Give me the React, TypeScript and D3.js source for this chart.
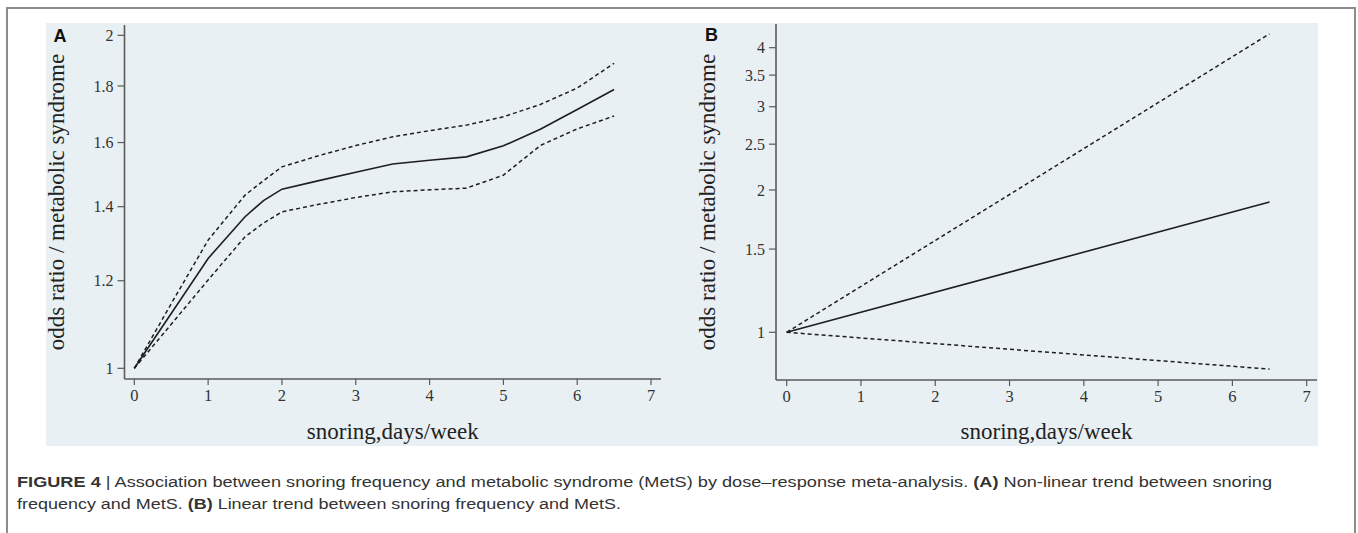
import React from 'react';
import * as d3 from 'd3';

// x axis ticks shared by both panels
const xTicks = [0, 1, 2, 3, 4, 5, 6, 7];

// panel A: non-linear (spline) trend
const daysA = [0, 0.5, 1, 1.5, 1.75, 2, 2.5, 3, 3.5, 4, 4.5, 5, 5.5, 6, 6.5];
const orA = [1.0, 1.121, 1.257, 1.371, 1.418, 1.452, 1.478, 1.504, 1.53, 1.542, 1.553, 1.589, 1.645, 1.714, 1.787];
const upperA = [1.0, 1.144, 1.306, 1.434, 1.478, 1.521, 1.557, 1.59, 1.619, 1.64, 1.659, 1.688, 1.732, 1.792, 1.887];
const lowerA = [1.0, 1.096, 1.202, 1.315, 1.353, 1.385, 1.407, 1.427, 1.444, 1.45, 1.455, 1.495, 1.59, 1.646, 1.691];
const yTicksA = [1, 1.2, 1.4, 1.6, 1.8, 2];

// panel B: linear trend
const daysB = [0, 6.5];
const orB = [1.0, 1.886];
const upperB = [1.0, 4.28];
const lowerB = [1.0, 0.836];
const yTicksB = [1, 1.5, 2, 2.5, 3, 3.5, 4];

const serif = '"Liberation Serif", "Times New Roman", serif';
const sans = '"Liberation Sans", Arial, sans-serif';
const axisColor = '#5a5a5a';
const lineColor = '#1e1e1e';

interface PanelProps {
  label: string;
  box: { x0: number; x1: number; y0: number; y1: number };
  xDomain: [number, number];
  yDomain: [number, number];
  yTicks: number[];
  days: number[];
  est: number[];
  upper: number[];
  lower: number[];
}

function Panel({ label, box, xDomain, yDomain, yTicks, days, est, upper, lower }: PanelProps) {
  const x = d3.scaleLinear().domain(xDomain).range([box.x0, box.x1]);
  const y = d3.scaleLog().domain(yDomain).range([box.y1, box.y0]);

  const line = (vals: number[]) =>
    d3.line<number>()
      .x((_, i) => x(days[i]))
      .y((v) => y(v))(vals) || '';

  const midX = (box.x0 + box.x1) / 2;
  const midY = (box.y0 + box.y1) / 2;

  return (
    <g>
      <text x={box.x0 - 71} y={box.y0 + 17} fontFamily={sans} fontWeight="bold" fontSize={18} fill="#111">
        {label}
      </text>

      {/* y axis */}
      <line x1={box.x0} x2={box.x0} y1={box.y0} y2={box.y1} stroke={axisColor} strokeWidth={1.6} />
      {yTicks.map((t) => (
        <g key={t}>
          <line x1={box.x0 - 7} x2={box.x0} y1={y(t)} y2={y(t)} stroke={axisColor} strokeWidth={1.2} />
          <text x={box.x0 - 11} y={y(t)} dy="0.35em" textAnchor="end" fontFamily={serif} fontSize={16} fill="#333">
            {t}
          </text>
        </g>
      ))}
      <text
        transform={`translate(${box.x0 - 61},${midY}) rotate(-90)`}
        textAnchor="middle"
        fontFamily={serif}
        fontSize={23}
        fill="#222"
      >
        odds ratio / metabolic syndrome
      </text>

      {/* x axis */}
      <line x1={box.x0} x2={box.x1} y1={box.y1} y2={box.y1} stroke={axisColor} strokeWidth={1.6} />
      {xTicks.map((t) => (
        <g key={t}>
          <line x1={x(t)} x2={x(t)} y1={box.y1} y2={box.y1 + 6} stroke={axisColor} strokeWidth={1.2} />
          <text x={x(t)} y={box.y1 + 22} textAnchor="middle" fontFamily={serif} fontSize={16.5} fill="#333">
            {t}
          </text>
        </g>
      ))}
      <text x={midX} y={439} textAnchor="middle" fontFamily={serif} fontSize={23} fill="#222">
        snoring,days/week
      </text>

      {/* curves */}
      <path d={line(upper)} fill="none" stroke={lineColor} strokeWidth={1.5} strokeDasharray="4,3" />
      <path d={line(lower)} fill="none" stroke={lineColor} strokeWidth={1.5} strokeDasharray="4,3" />
      <path d={line(est)} fill="none" stroke={lineColor} strokeWidth={1.6} />
    </g>
  );
}

export default function App() {
  const W = 1358;
  const H = 533;
  return (
    <svg
      width={W}
      height={H}
      viewBox={`0 0 ${W} ${H}`}
      style={{ position: 'absolute', left: 0, top: 0, background: '#fff' }}
    >
      <rect x={7} y={8} width={1348} height={540} fill="#fff" stroke="#8c8c8c" strokeWidth={2} />
      <rect x={46} y={23} width={1272} height={423} fill="#e9f0f3" />

      <Panel
        label="A"
        box={{ x0: 124.5, x1: 661, y0: 25, y1: 379 }}
        xDomain={[-0.133, 7.135]}
        yDomain={[0.978, 2.0435]}
        yTicks={yTicksA}
        days={daysA}
        est={orA}
        upper={upperA}
        lower={lowerA}
      />
      <Panel
        label="B"
        box={{ x0: 776, x1: 1317, y0: 24, y1: 380 }}
        xDomain={[-0.144, 7.139]}
        yDomain={[0.7927, 4.489]}
        yTicks={yTicksB}
        days={daysB}
        est={orB}
        upper={upperB}
        lower={lowerB}
      />

      <text x={17} y={487} fontFamily={sans} fontSize={15.5} fill="#333" textLength={1255} lengthAdjust="spacingAndGlyphs">
        <tspan fontWeight="bold">FIGURE 4</tspan>
        <tspan> | Association between snoring frequency and metabolic syndrome (MetS) by dose–response meta-analysis. </tspan>
        <tspan fontWeight="bold">(A)</tspan>
        <tspan> Non-linear trend between snoring</tspan>
      </text>
      <text x={17} y={509} fontFamily={sans} fontSize={15.5} fill="#333" textLength={604} lengthAdjust="spacingAndGlyphs">
        <tspan>frequency and MetS. </tspan>
        <tspan fontWeight="bold">(B)</tspan>
        <tspan> Linear trend between snoring frequency and MetS.</tspan>
      </text>
    </svg>
  );
}
